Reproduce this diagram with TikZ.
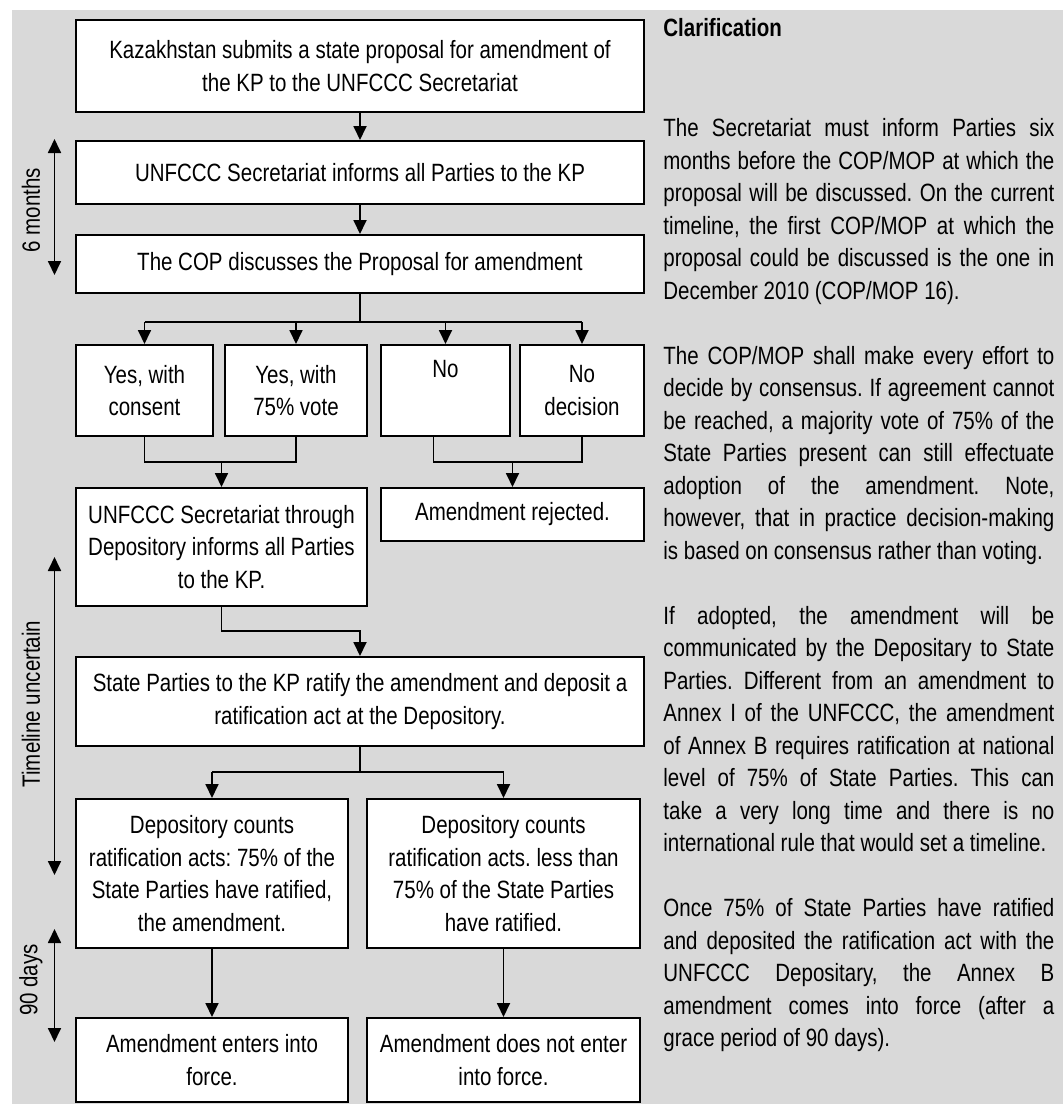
\documentclass[tikz,border=0pt]{standalone}
\usepackage{fontspec}
\setmainfont{Liberation Sans}
\newfontfamily\narrowfont{Liberation Sans}[FakeStretch=0.82]
\usetikzlibrary{arrows.meta}
\definecolor{panelgray}{RGB}{217,217,217}
\frenchspacing

\begin{document}
\begin{tikzpicture}[x=0.5pt, y=-0.5pt,
  box/.style={draw, fill=white, line width=1pt, inner sep=0pt, align=center,
    font=\narrowfont\fontsize{12.5pt}{16.3pt}\selectfont},
  link/.style={line width=0.9pt},
  arr/.style={link, -{Triangle[length=7pt, width=6.5pt]}},
  span/.style={link, {Triangle[length=7pt, width=6.5pt]}-{Triangle[length=7pt, width=6.5pt]}},
  side/.style={rotate=90, inner sep=0pt, font=\narrowfont\fontsize{12.5pt}{14pt}\selectfont}]
  %% 1. Background
  \useasboundingbox (0,0) rectangle (1063,1104);
  \fill[panelgray] (12,10) rectangle (1063,1104);

  %% 2. Boxes
  \node[box, minimum width=284pt, minimum height=46pt] (submit) at (360,66)
    {Kazakhstan submits a state proposal for amendment of\\the KP to the UNFCCC Secretariat};
  \node[box, minimum width=284pt, minimum height=31.5pt] (inform) at (360,172.5)
    {UNFCCC Secretariat informs all Parties to the KP};
  \node[box, minimum width=284pt, minimum height=29pt] (discuss) at (360,264)
    {The COP discusses the Proposal for amendment};
  \node[box, minimum width=68.5pt, minimum height=45.5pt] (consent) at (144.5,390.5) {Yes, with\\consent};
  \node[box, minimum width=71pt, minimum height=45.5pt] (vote) at (296,390.5) {Yes, with\\75\% vote};
  \node[box, minimum width=64.5pt, minimum height=45.5pt] (no) at (445.5,390.5) {No\\\strut};
  \node[box, minimum width=62pt, minimum height=45.5pt] (nodecision) at (582,390.5) {No\\decision};
  \node[box, minimum width=145.5pt, minimum height=59pt] (through) at (221.5,547)
    {UNFCCC Secretariat through\\Depository informs all Parties\\to the KP.};
  \node[box, minimum width=131.5pt, minimum height=26.5pt] (rejected) at (512.5,514.5) {Amendment rejected.};
  \node[box, minimum width=284pt, minimum height=44.5pt] (ratify) at (360,701.5)
    {State Parties to the KP ratify the amendment and deposit a\\ratification act at the Depository.};
  \node[box, minimum width=136pt, minimum height=74.5pt] (counted) at (212,873.5)
    {Depository counts\\ratification acts: 75\% of the\\State Parties have ratified,\\the amendment.};
  \node[box, minimum width=136.5pt, minimum height=74.5pt] (short) at (503.5,873.5)
    {Depository counts\\ratification acts. less than\\75\% of the State Parties\\have ratified.};
  \node[box, minimum width=136pt, minimum height=42pt] (enters) at (212,1060) {Amendment enters into\\force.};
  \node[box, minimum width=136.5pt, minimum height=42pt] (notenter) at (503.5,1060) {Amendment does not enter\\into force.};

  %% 3. Connectors
  \draw[arr] (submit) -- (inform);
  \draw[arr] (inform) -- (discuss);
  \coordinate (split) at (360,322);
  \draw[link] (discuss) -- (split);
  \draw[link] (consent.north |- split) -- (nodecision.north |- split);
  \foreach \b in {consent, vote, no, nodecision}
    \draw[arr] (\b.north |- split) -- (\b);
  \coordinate (yesjoin) at (221.5,462);
  \coordinate (nojoin) at (512.5,462);
  \draw[link] (consent.south) |- (yesjoin) -| (vote.south);
  \draw[link] ([xshift=-6pt]no.south) |- (nojoin) -| (nodecision.south);
  \draw[arr] (yesjoin) -- (through);
  \draw[arr] (nojoin) -- (rejected);
  \coordinate (bend) at (360,631);
  \draw[arr] (through.south) |- (bend) -- (ratify);
  \coordinate (fork) at (360,772);
  \draw[link] (ratify) -- (fork);
  \draw[link] (counted.north |- fork) -- (short.north |- fork);
  \draw[arr] (counted.north |- fork) -- (counted);
  \draw[arr] (short.north |- fork) -- (short);
  \draw[arr] (counted) -- (enters);
  \draw[arr] (short) -- (notenter);

  %% 4. Time spans
  \coordinate (sixtop) at (54.5,139);
  \coordinate (sixbot) at (54.5,275);
  \draw[span] (sixtop) -- (sixbot);
  \node[side] (sixlabel) at (31,210) {6 months};
  \coordinate (openttop) at (54.5,557);
  \coordinate (opentbot) at (54.5,875);
  \draw[span] (openttop) -- (opentbot);
  \node[side] (openlabel) at (31,704) {Timeline uncertain};
  \coordinate (gracetop) at (54.5,929);
  \coordinate (gracebot) at (54.5,1042);
  \draw[span] (gracetop) -- (gracebot);
  \node[side] (gracelabel) at (31,980) {90 days};

  %% 5. Clarification text
  \node[anchor=north west, inner sep=0pt, text width=195.5pt, align=justify,
    font=\narrowfont\fontsize{12.5pt}{16.25pt}\selectfont] (notes) at (663,18)
    {\tolerance=10000 \hbadness=10000 \hyphenpenalty=10000 \exhyphenpenalty=10000
     {\bfseries Clarification}\par\vspace{33.75pt}
     The Secretariat must inform Parties six\linebreak
     months before the COP/MOP at which the\linebreak
     proposal will be discussed. On the current\linebreak
     timeline, the first COP/MOP at which the\linebreak
     proposal could be discussed is the one in\linebreak
     December 2010 (COP/MOP 16).\par\vspace{16.25pt}
     The COP/MOP shall make every effort to\linebreak
     decide by consensus. If agreement cannot\linebreak
     be reached, a majority vote of 75\% of the\linebreak
     State Parties present can still effectuate\linebreak
     adoption of the amendment. Note,\linebreak
     however, that in practice decision-making\linebreak
     is based on consensus rather than voting.\par\vspace{16.25pt}
     If adopted, the amendment will be\linebreak
     communicated by the Depositary to State\linebreak
     Parties. Different from an amendment to\linebreak
     Annex I of the UNFCCC, the amendment\linebreak
     of Annex B requires ratification at national\linebreak
     level of 75\% of State Parties. This can\linebreak
     take a very long time and there is no\linebreak
     international rule that would set a timeline.\par\vspace{16.25pt}
     Once 75\% of State Parties have ratified\linebreak
     and deposited the ratification act with the\linebreak
     UNFCCC Depositary, the Annex B\linebreak
     amendment comes into force (after a\linebreak
     grace period of 90 days).};
\end{tikzpicture}
\end{document}
